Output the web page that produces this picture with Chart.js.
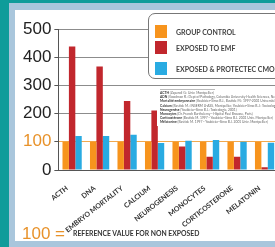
<!DOCTYPE html>
<html>
<head>
<meta charset="utf-8">
<script src="https://cdn.jsdelivr.net/npm/chart.js@4"></script>
<style>
  html, body { margin: 0; padding: 0; }
  html { overflow: hidden; }
  body { width: 275px; height: 247px; overflow: hidden; position: relative; background: #0f9c9a; font-family: Lato, sans-serif; }
  .frame { position: absolute; left: 9px; top: 3px; width: 280px; height: 250px; background: #a9c6dc; }
  .panel { position: absolute; left: 15px; top: 10px; width: 270px; height: 231px; background: #fff; }
  canvas { position: absolute; left: 0; top: 0; }
  .legend { position: absolute; left: 148px; top: 13px; width: 140px; height: 64px; border: 1px solid #777; border-radius: 7px; background: #fff; }
  .item { position: absolute; left: 27px; font-size: 7px; font-weight: 700; color: #444; white-space: nowrap; line-height: 10px; }
  .sw { position: absolute; left: -21px; top: -2px; width: 12px; height: 13px; }
  .refs { position: absolute; left: 157px; top: 89px; width: 130px; height: 37px; background: #fff; }
  .refs div { font-size: 3.3px; line-height: 4.2px; color: #666; white-space: nowrap; padding-left: 3px; }
  .refs b { color: #333; }
  .refs .rule { height: 0; border-top: 1px solid #bbb; width: 55px; margin: 0 0 1px 3px; padding: 0; }
  .foot { position: absolute; left: 22px; top: 223px; white-space: nowrap; }
  .foot .big { font-family: 'Liberation Sans', Arial, sans-serif; font-size: 17px; color: #e8922a; }
  .foot .small { font-size: 6.8px; font-weight: 700; color: #333; margin-left: 8px; vertical-align: 3px; }
</style>
</head>
<body>
<div class="frame"></div>
<div class="panel"></div>
<canvas id="chart" width="284" height="247" style="width:284px;height:247px"></canvas>
<div class="legend" id="legend"></div>
<div class="refs" id="refs"></div>
<div class="foot"><span class="big">100 =</span><span class="small">REFERENCE VALUE FOR NON EXPOSED</span></div>
<script>
// données du graphique
const categories = ['ACTH', 'DNA', 'EMBRYO MORTALITY', 'CALCIUM', 'NEUROGENESIS', 'MONOCYTES', 'CORTICOSTERONE', 'MELATONIN'];
const seriesNames = ['GROUP CONTROL', 'EXPOSED TO EMF', 'EXPOSED & PROTECTEC CMO'];
const groupControl = [100, 100, 100, 100, 100, 100, 100, 100];
const exposedEmf = [438, 367, 245, 211, 83, 47, 47, 10];
const exposedCmo = [121, 121, 125, 96, 104, 106, 100, 97];
const yTicks = [0, 100, 200, 300, 400, 500];

const references = [
    ['ACTH', '(Zaparoli G.: Univ. Montpellier)'],
    ['ADN', '(Goodman R.: Dept of Pathology, Columbia University Health Sciences, New York)'],
    ['Mortalité embryonnaire', '(Youbicier-Simo B.J., Bastide M.: 1997-2001 Université de Montpellier)'],
    ['Calcium', '(Bastide M.: INSERM U-ASS, Montpellier, Youbicier-Simo B.J.: Toxicologie)'],
    ['Neurogenèse', '(Youbicier-Simo B.J.: Toxicologie, 2001)'],
    ['Monocytes', '(Dr. Franck Barthelemy - Hôpital Paul Brousse, Paris)'],
    ['Corticostérone', '(Bastide M. 1997 - Youbicier-Simo B.J. 2001 Univ. Montpellier)'],
    ['Mélatonine', '(Bastide M. 1997 - Youbicier-Simo B.J. 2001 Univ. Montpellier)']
];

const colors = {
    orange: '#f7941d',
    red: '#c1272d',
    blue: '#29abe2',
    refLine: '#f2a94e',
    grid: '#8c8c8c',
    axis: '#555'
};
const seriesColors = [colors.orange, colors.red, colors.blue];

// légende
const legend = document.getElementById('legend');
const legendTops = [13, 29, 50];
seriesNames.forEach((name, i) => {
    const el = document.createElement('div');
    el.className = 'item';
    el.style.top = legendTops[i] + 'px';
    el.innerHTML = '<span class="sw" style="background:' + seriesColors[i] + '"></span>' + name.replace('&', '&amp;');
    legend.appendChild(el);
});

// références
const refs = document.getElementById('refs');
const rule = document.createElement('div');
rule.className = 'rule';
refs.appendChild(rule);
references.forEach(r => {
    const el = document.createElement('div');
    el.innerHTML = '<b>' + r[0] + '</b> ' + r[1];
    refs.appendChild(el);
});

new Chart(document.getElementById('chart'), {
    type: 'bar',
    data: {
        labels: categories,
        datasets: [groupControl, exposedEmf, exposedCmo].map((d, i) => ({
            label: seriesNames[i],
            data: d,
            backgroundColor: seriesColors[i],
            borderWidth: 0,
            categoryPercentage: 0.7,
            barPercentage: 1.0
        }))
    },
    options: {
        responsive: false,
        devicePixelRatio: 1,
        animation: false,
        layout: { padding: { left: 20, top: 29, right: 4, bottom: 0 } },
        plugins: { legend: { display: false }, tooltip: { enabled: false } },
        scales: {
            x: {
                afterFit: axis => { axis.height = 77; },
                grid: { display: false, drawTicks: false },
                border: { display: true, color: colors.axis, width: 1 },
                ticks: {
                    autoSkip: false,
                    maxRotation: 38,
                    minRotation: 38,
                    padding: 14,
                    labelOffset: -5,
                    color: '#333',
                    font: { family: 'Lato', size: 7, weight: '700' }
                }
            },
            y: {
                min: 0,
                max: 500,
                afterBuildTicks: axis => { axis.ticks = yTicks.map(v => ({ value: v })); },
                grid: {
                    color: ctx => ctx.tick && ctx.tick.value === 100 ? colors.refLine : (ctx.tick && ctx.tick.value === 0 ? colors.axis : colors.grid),
                    tickLength: 4,
                    tickColor: colors.axis
                },
                border: { display: true, color: colors.axis, width: 1 },
                ticks: {
                    padding: 3,
                    color: ctx => ctx.tick.value === 100 ? '#e8922a' : '#222',
                    font: { family: 'Liberation Sans', size: 17 }
                }
            }
        }
    }
});
</script>
</body>
</html>
